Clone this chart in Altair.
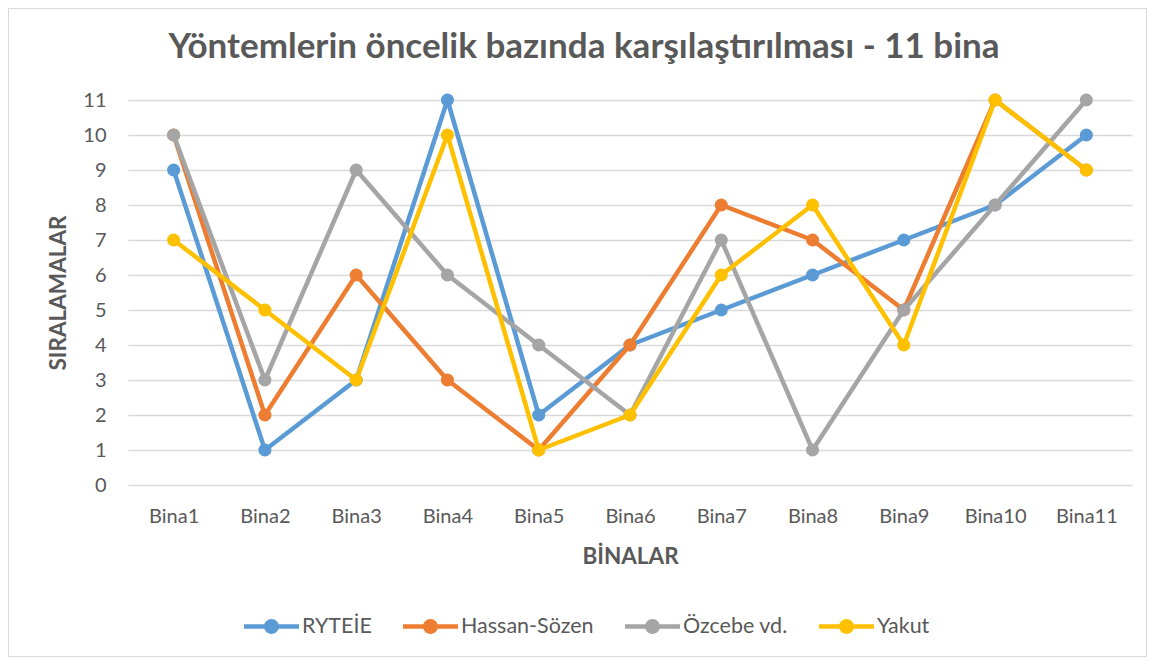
import altair as alt
import pandas as pd

bina = ["Bina1", "Bina2", "Bina3", "Bina4", "Bina5", "Bina6",
        "Bina7", "Bina8", "Bina9", "Bina10", "Bina11"]
series_names = ["RYTEİE", "Hassan-Sözen", "Özcebe vd.", "Yakut"]
ryteie = [9, 1, 3, 11, 2, 4, 5, 6, 7, 8, 10]
hassan = [10, 2, 6, 3, 1, 4, 8, 7, 5, 11, 9]
ozcebe = [10, 3, 9, 6, 4, 2, 7, 1, 5, 8, 11]
yakut = [7, 5, 3, 10, 1, 2, 6, 8, 4, 11, 9]
colors = ["#5B9BD5", "#ED7D31", "#A5A5A5", "#FFC000"]
y_ticks = list(range(0, 12))
title_text = "Yöntemlerin öncelik bazında karşılaştırılması - 11 bina"

rows = []
for name, vals in zip(series_names, [ryteie, hassan, ozcebe, yakut]):
    for b, v in zip(bina, vals):
        rows.append({"Bina": b, "Sıra": v, "Yöntem": name})
df = pd.DataFrame(rows)

FONT = "Lato"
GREY = "#595959"
W, H = 1004, 385

x_enc = alt.X("Bina:N", sort=bina,
              scale=alt.Scale(type="point", padding=0.5),
              axis=alt.Axis(title="BİNALAR", labelAngle=0, grid=False, domain=False,
                            ticks=False, labelPadding=21, labelFontSize=20,
                            titleY=71, titleBaseline="middle"))
y_enc = alt.Y("Sıra:Q", scale=alt.Scale(domain=[0, 11], nice=False),
              axis=alt.Axis(title="SIRALAMALAR", values=y_ticks, grid=True,
                            domain=False, ticks=False, labelPadding=22,
                            labelFontSize=20, titleX=-70, titleBaseline="middle"))

sym_path = ("M-1,-0.085H1V0.085H-1Z "
            "M-0.27,0A0.27,0.27 0 1,1 0.27,0A0.27,0.27 0 1,1 -0.27,0Z")

legend = alt.Legend(title=None, orient="none", legendX=116, legendY=499,
                    direction="horizontal", columns=4, columnPadding=31,
                    symbolType=sym_path, symbolSize=3025, symbolStrokeWidth=0,
                    symbolOpacity=1, labelOffset=3, labelFontSize=21.5,
                    labelFont=FONT, labelColor=GREY)

fill_scale = alt.Scale(domain=series_names, range=colors)

one = pd.DataFrame({"a": [0]})
layers = []
border = alt.Chart(one).mark_rect(
    fill="transparent", stroke="#d9d9d9", strokeWidth=1
).encode(x=alt.value(-119.5), x2=alt.value(W + 14.5), y=alt.value(-91.5),
         y2=alt.value(H + 171.5))
layers.append(border)
title = alt.Chart(one).mark_text(
    text=title_text, font=FONT, fontSize=35, fontWeight="bold", color=GREY,
    align="center", baseline="middle"
).encode(x=alt.value(456), y=alt.value(-53))
layers.append(title)

base = alt.Chart(df)
for name, col in zip(series_names, colors):
    sub = base.transform_filter(alt.datum["Yöntem"] == name)
    line = sub.mark_line(strokeWidth=4.5, strokeCap="round", strokeJoin="round",
                         color=col).encode(x=x_enc, y=y_enc)
    pts = sub.mark_circle(size=170, opacity=1).encode(
        x=x_enc, y=y_enc,
        fill=alt.Fill("Yöntem:N", scale=fill_scale, legend=legend))
    layers += [line, pts]

chart = alt.layer(*layers).properties(
    width=W, height=H,
    autosize=alt.AutoSizeParams(type="none"),
    padding={"left": 120, "top": 92, "right": 15, "bottom": 172},
).configure_view(stroke=None).configure_axis(
    labelFont=FONT, titleFont=FONT, labelColor=GREY, titleColor=GREY,
    titleFontSize=22.5, titleFontWeight="bold", gridColor="#d9d9d9", gridWidth=1.5
)

chart.save("out.html", embed_options={"renderer": "svg", "actions": False})
